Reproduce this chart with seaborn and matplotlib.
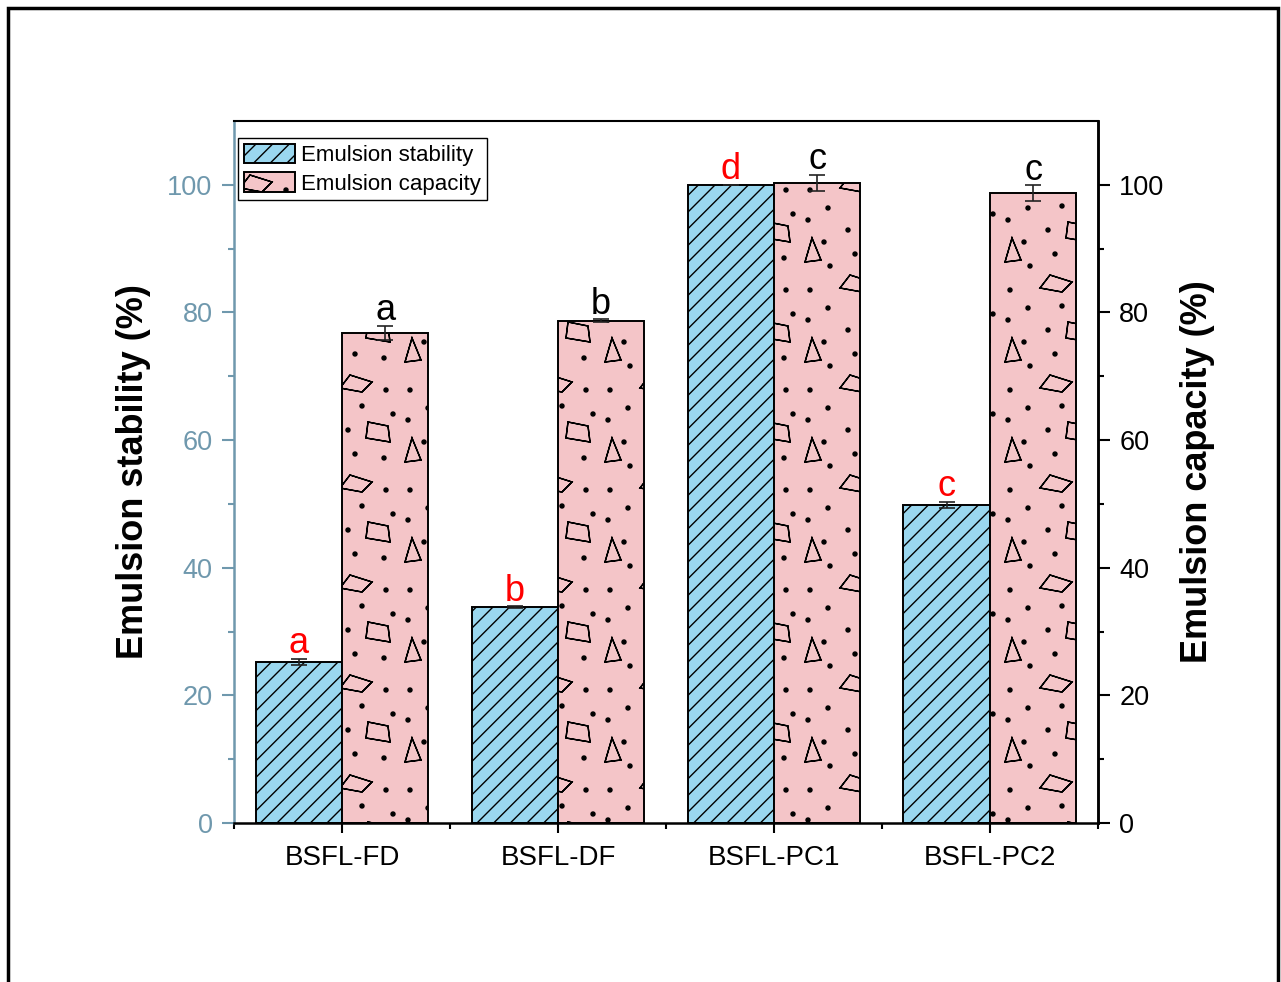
import numpy as np
import pandas as pd
import matplotlib
matplotlib.use("Agg")
import matplotlib.pyplot as plt
from matplotlib import hatch as mhatch
from matplotlib.path import Path
from matplotlib.patches import Rectangle
from matplotlib.ticker import FixedLocator
import seaborn as sns

# ---------------------------------------------------------------- data
samples = ["BSFL-FD", "BSFL-DF", "BSFL-PC1", "BSFL-PC2"]
series = ["Emulsion stability", "Emulsion capacity"]
stability = [25.2, 33.8, 100.0, 49.8]
stability_err = [0.5, 0.15, 0.0, 0.5]
capacity = [76.8, 78.7, 100.3, 98.7]
capacity_err = [1.1, 0.2, 1.3, 1.2]
stability_letters = ["a", "b", "d", "c"]
capacity_letters = ["a", "b", "c", "c"]


# ------------------------------------------- custom "speckle" hatch (*)
class SpeckleHatch(mhatch.HatchPatternBase):
    """Dots plus outlined polygons, tiled in one hatch cell."""
    dots = [(0.10, 0.10), (0.30, 0.34), (0.86, 0.10), (0.55, 0.46),
            (0.84, 0.42), (0.24, 0.58), (0.08, 0.80), (0.28, 0.92),
            (0.62, 0.94), (0.93, 0.86), (0.48, 0.70)]
    polys = [
        [(0.05, 0.38), (0.12, 0.62), (0.21, 0.40)],
        [(0.40, 0.12), (0.62, 0.08), (0.72, 0.18), (0.50, 0.25)],
        [(0.66, 0.62), (0.90, 0.58), (0.88, 0.74), (0.68, 0.78)],
    ]
    radius = 0.02

    def __init__(self, hatch, density):
        self.active = "*" in hatch
        circ = Path.unit_circle()
        self.circ_v = circ.vertices
        self.circ_c = circ.codes
        n = len(self.dots) * len(self.circ_v)
        n += sum(2 * (len(p) + 1) for p in self.polys)
        self.num_vertices = n if self.active else 0

    def set_vertices_and_codes(self, vertices, codes):
        i = 0
        nc = len(self.circ_v)
        for (cx, cy) in self.dots:
            vertices[i:i + nc] = self.circ_v * self.radius + (cx, cy)
            codes[i:i + nc] = self.circ_c
            i += nc
        for poly in self.polys:
            # trace forward and back so only the outline is drawn
            for pts in (poly, poly[::-1]):
                k = len(pts)
                vertices[i:i + k] = pts
                vertices[i + k] = pts[0]
                codes[i] = Path.MOVETO
                codes[i + 1:i + k] = Path.LINETO
                codes[i + k] = Path.CLOSEPOLY
                i += k + 1


mhatch._hatch_types = [t for t in mhatch._hatch_types
                       if t is not mhatch.Stars] + [SpeckleHatch]

# ---------------------------------------------------------------- style
sns.set_style("ticks")
plt.rcParams["font.family"] = ["Liberation Sans", "DejaVu Sans"]
plt.rcParams["hatch.linewidth"] = 1.0
for key in ["text.color", "axes.labelcolor", "xtick.color", "ytick.color",
            "axes.edgecolor"]:
    plt.rcParams[key] = "black"

slate = "#6f98ad"
blue = "#9ad7ef"
pink = "#f4c5c8"

df = pd.DataFrame({
    "sample": samples * 2,
    "measure": [series[0]] * 4 + [series[1]] * 4,
    "value": stability + capacity,
})

fig = plt.figure(figsize=(12.81, 9.82), dpi=100)
ax = fig.add_axes([0.1827, 0.1619, 0.857 - 0.1827, 0.8768 - 0.1619])

sns.barplot(data=df, x="sample", y="value", hue="measure",
            hue_order=series, order=samples, palette=[blue, pink],
            saturation=1, edgecolor="black", linewidth=1.4,
            width=0.8, gap=0, legend=False, errorbar=None, ax=ax)

for bar in ax.containers[0]:
    bar.set_hatch("//")
for bar in ax.containers[1]:
    bar.set_hatch("*")

# error bars and significance letters
groups = [(stability, stability_err, stability_letters, "#ff0000"),
          (capacity, capacity_err, capacity_letters, "black")]
for cont, (vals, errs, letters, col) in zip(ax.containers, groups):
    xs = [p.get_x() + p.get_width() / 2 for p in cont]
    ax.errorbar(xs, vals, yerr=errs, fmt="none", ecolor="#222222",
                elinewidth=1.2, capsize=6, capthick=1.2, zorder=4)
    for x, v, e, s in zip(xs, vals, errs, letters):
        ax.text(x, v + e + 0.9, s, ha="center", va="baseline",
                fontsize=26, color=col)

# axes limits and ticks
ax.set_xlim(-0.5, 3.5)
ax.set_ylim(0, 110)
ax.yaxis.set_major_locator(FixedLocator([0, 20, 40, 60, 80, 100]))
ax.yaxis.set_minor_locator(FixedLocator([10, 30, 50, 70, 90]))
ax.xaxis.set_minor_locator(FixedLocator([-0.5, 0.5, 1.5, 2.5, 3.5]))
ax.set_xlabel("")
ax.set_ylabel("Emulsion stability (%)", fontsize=26, fontweight="bold",
              labelpad=12, color="black")
ax.tick_params(axis="x", which="major", length=7.5, width=1.5,
               labelsize=20, pad=8, colors="black")
ax.tick_params(axis="x", which="minor", length=4.5, width=1.5,
               colors="black")
ax.tick_params(axis="y", which="major", length=8.5, width=1.5,
               labelsize=19.5, pad=7, colors=slate)
ax.tick_params(axis="y", which="minor", length=4.5, width=1.5,
               colors=slate)

for side in ["left", "right", "top", "bottom"]:
    ax.spines[side].set_visible(True)
    ax.spines[side].set_color("black")
ax.spines["left"].set_color(slate)
ax.spines["left"].set_linewidth(1.8)
ax.spines["bottom"].set_linewidth(1.8)
ax.spines["top"].set_linewidth(1.5)
ax.spines["right"].set_linewidth(1.8)

ax2 = ax.twinx()
ax2.set_ylim(0, 110)
ax2.yaxis.set_major_locator(FixedLocator([0, 20, 40, 60, 80, 100]))
ax2.yaxis.set_minor_locator(FixedLocator([10, 30, 50, 70, 90]))
ax2.set_ylabel("Emulsion capacity (%)", fontsize=26, fontweight="bold",
               rotation=90, labelpad=11, color="black")
ax2.tick_params(axis="y", which="major", length=8.5, width=1.5,
                labelsize=19.5, pad=7, colors="black")
ax2.tick_params(axis="y", which="minor", length=4.5, width=1.5,
                colors="black")
for side in ["left", "top", "bottom"]:
    ax2.spines[side].set_visible(False)
ax2.spines["right"].set_linewidth(1.8)
ax2.spines["right"].set_color("black")

leg = ax.legend(handles=list(ax.containers), labels=series,
                loc="upper left", bbox_to_anchor=(4 / 864, 1 - 17 / 702),
                borderaxespad=0, fontsize=16, frameon=True, fancybox=False,
                edgecolor="black", framealpha=1, borderpad=0.25,
                labelspacing=0.3, handlelength=2.3, handleheight=0.95,
                handletextpad=0.3, labelcolor="black")
leg.get_frame().set_linewidth(1.0)
leg.set_zorder(10)

# outer frame
fig.add_artist(Rectangle((8 / 1281, -0.1), (1278 - 8) / 1281, 1.1 - 8 / 982,
                         transform=fig.transFigure, fill=False,
                         edgecolor="black", linewidth=2.5))

fig.savefig("out.png", dpi=100)
